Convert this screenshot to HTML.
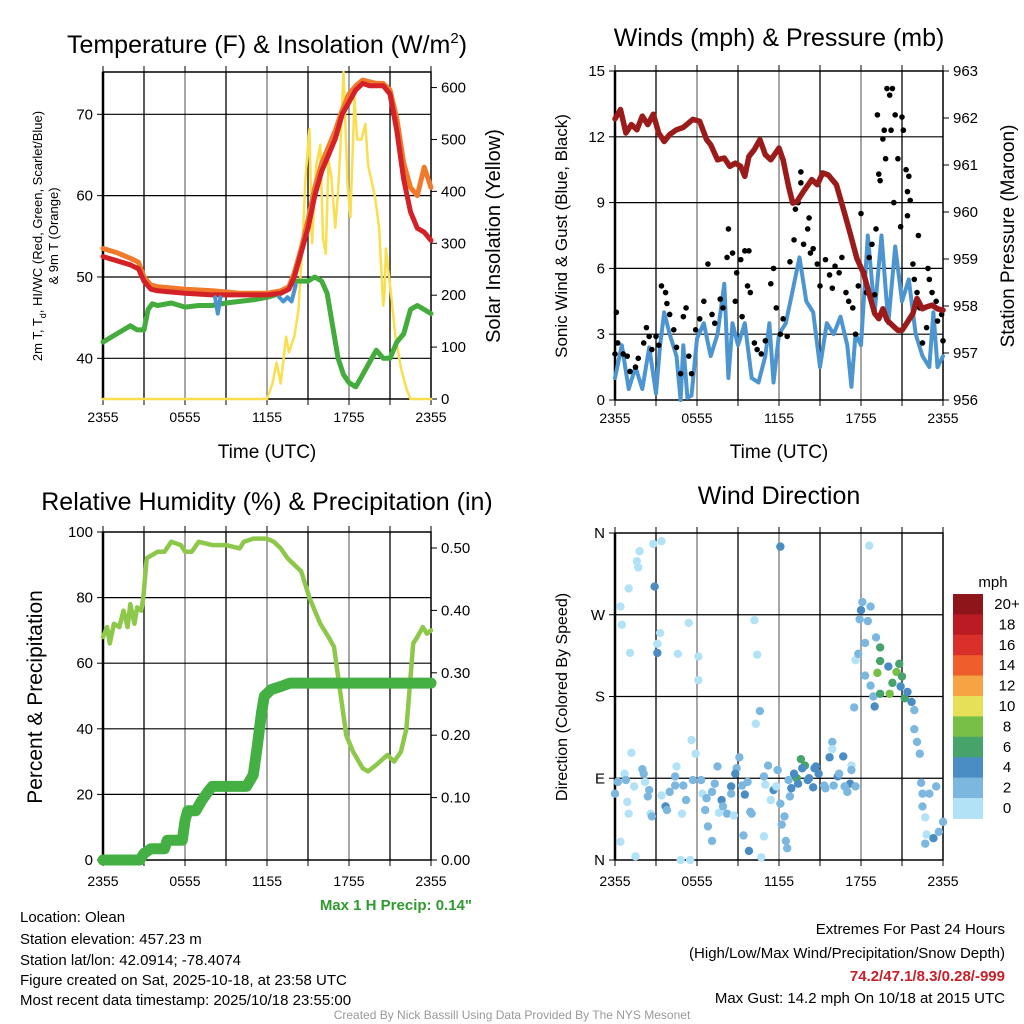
<!DOCTYPE html>
<html><head><meta charset="utf-8"><style>
body{margin:0;background:#fff}
svg{display:block;font-family:"Liberation Sans",sans-serif}
</style></head><body>
<svg id="c" width="1024" height="1024" viewBox="0 0 1024 1024">
<rect width="1024" height="1024" fill="#fff"/>
<g id="layer"></g>
<text x="267" y="53" font-size="25" text-anchor="middle">Temperature (F) &amp; Insolation (W/m<tspan dy="-10" font-size="15">2</tspan><tspan dy="10">)</tspan></text>
<text x="779" y="46" font-size="25" text-anchor="middle">Winds (mph) &amp; Pressure (mb)</text>
<text x="267" y="510" font-size="25" text-anchor="middle">Relative Humidity (%) &amp; Precipitation (in)</text>
<text x="779" y="504" font-size="25" text-anchor="middle">Wind Direction</text>
<text transform="translate(42,236) rotate(-90)" font-size="13" text-anchor="middle">2m T, T<tspan dy="4" font-size="9">d</tspan><tspan dy="-4">, HI/WC (Red, Green, Scarlet/Blue)</tspan></text>
<text transform="translate(58,236) rotate(-90)" font-size="13" text-anchor="middle">&amp; 9m T (Orange)</text>
<text transform="translate(500,236) rotate(-90)" font-size="20" text-anchor="middle">Solar Insolation (Yellow)</text>
<text x="267" y="458" font-size="19" text-anchor="middle">Time (UTC)</text>
<text transform="translate(567,236) rotate(-90)" font-size="17" text-anchor="middle">Sonic Wind &amp; Gust (Blue, Black)</text>
<text transform="translate(1014,236) rotate(-90)" font-size="19" text-anchor="middle">Station Pressure (Maroon)</text>
<text x="779" y="458" font-size="19" text-anchor="middle">Time (UTC)</text>
<text transform="translate(42,697) rotate(-90)" font-size="21" text-anchor="middle">Percent &amp; Precipitation</text>
<text transform="translate(567,697) rotate(-90)" font-size="16" text-anchor="middle">Direction (Colored By Speed)</text>
<text x="472" y="910" font-size="15" font-weight="bold" fill="#2f9a2f" text-anchor="end">Max 1 H Precip: 0.14"</text>
<text x="993" y="587" font-size="15" text-anchor="middle">mph</text>
<g font-size="15">
<text x="20" y="922">Location: Olean</text>
<text x="20" y="944">Station elevation: 457.23 m</text>
<text x="20" y="965">Station lat/lon: 42.0914; -78.4074</text>
<text x="20" y="985">Figure created on Sat, 2025-10-18, at 23:58 UTC</text>
<text x="20" y="1005">Most recent data timestamp: 2025/10/18 23:55:00</text>
</g>
<g font-size="15" text-anchor="end">
<text x="1005" y="934">Extremes For Past 24 Hours</text>
<text x="1005" y="958">(High/Low/Max Wind/Precipitation/Snow Depth)</text>
<text x="1005" y="981" fill="#c8202a" font-weight="bold">74.2/47.1/8.3/0.28/-999</text>
<text x="1005" y="1003">Max Gust: 14.2 mph On 10/18 at 2015 UTC</text>
</g>
<text x="512" y="1019" font-size="12" fill="#999" text-anchor="middle">Created By Nick Bassill Using Data Provided By The NYS Mesonet</text>
</svg>
<script>
// ---- time axis
const xTickLabels=["2355","0555","1155","1755","2355"];
// ---- Panel 1 data
const tempH=[0,1,2,2.6,3,3.5,4,6,8,10,12,13,13.6,14,14.5,15,15.5,16,16.5,17,17.5,18,18.5,19,19.5,20,20.5,21,21.5,22,22.5,23,23.5,24];
const tempRed=[52.5,52,51.5,51,49.5,48.5,48.3,48,47.8,47.8,47.8,48,48.5,50,53,56,60,63,65,67,70,71.5,73,73.8,73.5,73.5,73.5,72.5,68,62,58,56,55.5,54.5];
const tempOrange=[53.5,53,52.3,51.8,50,49,48.8,48.5,48.3,48,48,48.3,48.8,50.5,53.5,57,61,64,66,68,70.5,72.5,73.5,74.2,74,73.8,73.8,73,69.5,64,61,60,63.5,61];
const dewH=[0,0.5,1,1.5,2,2.5,3,3.3,3.6,4,5,6,7,8,9,10,11,12,13,13.5,14,15,15.5,16,16.4,16.8,17.2,17.6,18,18.5,19,19.5,20,20.5,21,21.5,22,22.5,23,23.5,24];
const dewVals=[42,42.5,43,43.5,44,43.5,43.5,46,46.7,46.5,46.8,46.3,46.5,46.5,46.8,47,47.2,47.5,48,48.5,49.5,49.5,50,49.5,48,44,40,38,37,36.5,38,39.5,41,40,40,42,43,46,46.5,46,45.5];
const hiH=[8.2,8.4,8.6,null,12.9,13.2,13.5,13.8,14.1];
const hiVals=[47.5,45.5,47.5,null,47.5,47,47.5,47,49];
const solarH=[0,12,12.4,12.7,13,13.4,13.6,14,14.3,14.6,14.8,15.1,15.3,15.6,15.9,16.1,16.3,16.5,16.7,17,17.2,17.4,17.6,17.9,18.1,18.4,18.6,18.9,19.2,19.4,19.9,20.2,20.5,20.6,20.7,21,21.4,21.8,22.2,22.5,24];
const solarVals=[0,0,30,70,30,120,90,120,170,300,420,520,300,450,490,310,280,460,430,330,400,500,630,410,350,580,500,500,530,450,390,330,180,200,290,220,120,60,20,0,0];
// ---- Panel 2 data
const presH=[0,0.4,0.8,1.2,1.6,2,2.4,2.8,3.2,3.6,4,4.5,5,5.7,6.2,6.7,7,7.5,8,8.4,8.8,9.2,9.5,9.8,10.2,10.6,11,11.4,12,12.3,12.7,13,13.3,13.8,14.4,14.8,15.2,15.6,16.2,16.8,17.2,17.7,18.2,18.6,19,19.3,19.6,19.9,20.3,20.7,21,21.4,21.8,22.1,22.5,22.8,23.2,23.6,24];
const presVals=[961.98,962.18,961.68,961.86,961.75,962.04,961.86,962.08,961.68,961.5,961.65,961.75,961.8,961.97,961.93,961.54,961.43,961.11,961.15,960.97,961.04,960.97,960.76,961.18,961.33,961.54,961.22,961.11,961.36,961.11,960.54,960.19,960.22,960.44,960.69,960.58,960.83,960.79,960.58,959.97,959.55,959.01,958.69,958.26,957.84,957.73,957.94,957.7,957.59,957.48,957.48,957.66,957.84,958.16,957.94,957.98,958.02,957.94,957.91];
const windH=[0,0.5,1,1.5,2,2.5,3,3.3,3.6,4,4.5,4.8,5,5.3,5.6,6,6.5,7,7.5,8,8.3,8.6,9,9.5,10,10.5,11,11.3,11.6,12,12.5,13,13.5,14,14.5,15,15.5,16,16.5,17,17.3,17.6,18,18.5,19,19.5,20,20.5,21,21.5,22,22.5,23,23.3,23.6,24];
const windVals=[1,2.5,0.5,1.5,0.5,2.4,0.3,2.5,4,3,2,0,2.5,0.1,0.2,2.8,3.5,2,3,5.3,1,3.5,2.5,3.5,1,0.8,2,3.5,0.8,3,3.5,5,6.5,4.5,4,1.5,3.5,3,3.8,2.5,0.6,3,2.5,7.5,4,7.5,3.5,7,4.5,5.5,3,2,1.5,4,1.5,2];
const gustH=[0,0.1,0.2,0.6,0.9,1.1,1.5,1.7,2.1,2.3,2.5,2.7,3.0,3.2,3.4,3.7,3.8,4.0,4.3,4.5,4.8,5.0,5.2,5.4,5.6,5.9,6.2,6.5,6.8,7.1,7.3,7.7,7.9,8.2,8.3,8.6,8.8,8.9,9.2,9.3,9.5,9.7,9.8,9.9,10.2,10.4,10.7,11.0,11.4,11.6,11.8,12.1,12.3,12.6,12.8,13.1,13.2,13.4,13.6,13.6,13.8,14.1,14.2,14.3,14.5,14.8,15.0,15.4,15.7,15.9,16.1,16.4,16.6,16.9,17.1,17.4,17.6,17.8,18.0,18.2,18.4,18.6,18.8,19.0,19.1,19.2,19.3,19.4,19.6,19.7,19.8,19.9,20.1,20.3,20.2,20.4,20.5,20.7,20.9,21.0,21.1,21.3,21.4,21.5,21.6,21.4,21.8,21.9,22.1,22.2,22.3,22.5,22.8,22.9,23.0,23.2,23.5,23.6,23.9,24];
const gustVals=[2.1,4.0,2.6,2.1,2.0,1.3,1.5,1.9,2.6,3.3,2.9,2.3,2.9,2.5,5.2,4.9,4.4,3.9,3.2,2.4,1.2,3.8,4.2,2.0,1.2,3.2,3.7,4.5,6.2,3.9,3.5,4.6,4.2,6.5,7.8,6.7,4.5,5.8,6.4,3.8,6.8,5.2,6.8,4.9,2.6,2.3,2.1,2.7,5.3,6.0,4.2,3.0,3.7,2.9,6.3,7.3,8.7,9.0,9.9,10.4,7.1,7.8,8.3,6.7,6.9,6.2,5.2,6.4,5.7,5.1,6.1,5.8,6.5,4.9,4.5,4.2,3.0,5.2,8.5,5.8,4.9,6.5,7.1,4.8,7.8,13.0,10.3,10.0,11.9,12.3,11.0,14.2,13.9,14.2,12.3,9.0,13.0,11.0,7.9,12.9,12.3,10.5,9.5,10.2,9.1,8.4,6.2,5.5,4.9,7.5,4.2,2.6,3.3,6.0,5.5,4.9,4.5,3.6,3.9,2.7];
// ---- Panel 3 data
const rhH=[0,0.3,0.5,0.8,1.2,1.5,1.8,2.0,2.3,2.5,2.8,2.95,3.2,3.6,4,4.5,5,5.7,6,6.5,7,8,9,10,10.3,11,12,12.5,13,13.5,14,14.5,15.1,15.5,15.9,16.5,16.9,17.4,17.8,18.3,19,19.4,20,20.8,21.3,21.8,22.2,22.7,23,23.4,23.7,24];
const rhVals=[68,71,66,72,71,76,71,78,72,77,76,80,92,93,94,94,97,96,94,94,97,96,96,95,97,98,98,97,95,92,90,88,80,76,72,68,65,50,38,33,28,27,29,32,30,33,40,66,68,71,69,70];
const precipH=[0,2.7,3,3.5,4.5,4.7,5.8,6,6.2,6.8,7.2,7.7,8,10.5,11,11.3,11.6,11.8,12.3,13,13.7,24];
const precipVals=[0,0,0.0105,0.018,0.018,0.0315,0.0315,0.063,0.079,0.079,0.0945,0.11,0.118,0.118,0.1365,0.184,0.236,0.2625,0.273,0.278,0.2835,0.2835];
// ---- Panel 4 data
const dirH=[0,0.4,0.4,0.5,1.0,1.1,1.2,0.7,0.9,1.0,1.4,1.5,1.6,1.7,1.8,2.1,2.4,2.6,2.8,2.9,3.1,3.1,3.3,3.4,3.7,3.8,4.4,4.5,4.6,4.8,4.9,5.2,5.4,5.5,5.6,5.9,6.1,6.1,6.3,6.6,6.8,7.1,7.5,7.8,8.2,8.5,8.7,8.9,9.1,9.4,9.5,9.8,9.9,10.2,10.4,10.3,10.6,10.7,10.9,11.0,11.2,11.6,11.9,12.1,12.1,12.2,12.4,12.5,12.6,12.8,12.9,13.3,13.6,13.9,14.2,14.5,14.7,15.3,15.7,15.9,15.9,16.3,16.7,17.0,17.2,17.6,17.5,17.6,17.8,18.1,18.0,17.9,18.5,18.3,18.7,18.6,19.1,19.4,19.4,19.2,18.3,18.7,19.0,18.9,19.4,20.0,20.1,20.3,20.6,20.8,21.0,20.9,21.2,21.4,21.7,21.9,21.9,22.1,22.3,22.4,22.5,22.5,22.7,22.8,22.7,23.0,23.3,23.5,23.7,24,0.2,0.8,2.0,2.2,2.5,2.7,3.4,4.0,4.4,5.0,5.7,6.4,6.7,7.1,7.3,7.6,7.9,8.5,8.8,9.3,9.7,10.0,10.9,11.4,11.8,12.7,13.1,13.4,13.7,14.1,14.6,14.9,15.4,16.0,16.4,16.8,17.3,17.3];
const dirDeg=[73,20,279,259,299,228,118,95,64,51,81,4,329,322,340,95,70,51,348,301,238,228,250,351,59,55,92,103,227,0,51,66,261,0,132,117,198,224,88,55,37,21,103,66,51,81,49,101,113,27,72,10,53,264,226,150,164,3,26,83,104,77,99,345,62,39,48,21,13,70,79,90,111,104,90,80,103,82,113,130,122,92,114,75,84,81,168,220,227,284,275,265,263,239,279,346,245,234,219,206,203,192,169,180,183,213,183,195,207,216,202,191,178,185,174,165,144,130,117,85,73,59,47,28,18,73,24,81,31,42,86,88,100,86,77,48,71,75,82,82,88,73,68,75,84,52,59,73,95,82,86,51,92,66,81,88,95,84,101,88,101,95,79,82,95,81,104,99];
const dirSpd=[2,0,0,0,0,0,0,0,0,0,0,0,0,0,0,2,2,0,0,4,0,4,0,0,4,2,2,0,0,0,0,2,0,0,0,0,0,0,2,2,2,2,2,4,2,4,0,2,2,2,4,4,2,0,0,0,2,0,0,0,2,4,2,4,2,2,2,2,2,2,4,6,6,6,4,4,4,2,4,2,0,4,4,2,4,2,2,0,2,2,4,2,2,2,2,0,2,6,6,8,2,2,4,2,6,4,8,6,8,6,6,4,6,4,4,2,2,2,2,2,2,2,0,0,2,2,4,2,2,2,2,2,2,0,2,2,0,2,2,2,2,0,2,2,2,0,2,2,4,2,2,2,2,0,0,2,4,4,4,4,4,4,2,2,2,2,0,2];
const cbLabels=["20+","18","16","14","12","10","8","6","4","2","0"];
const cbColors=["#8e1519","#bb1c24","#d9312a","#ee5e2b","#f6a443","#e6e058","#78bf48","#46a46b","#4a8dc4","#7cb7e0","#b2e2f6"];

const NS="http://www.w3.org/2000/svg";
const layer=document.getElementById('layer');
function mk(tag,attrs,parent){const e=document.createElementNS(NS,tag);for(const k in attrs)e.setAttribute(k,attrs[k]);(parent||layer).appendChild(e);return e;}
function lin(d0,d1,r0,r1){return v=>r0+(v-d0)/(d1-d0)*(r1-r0);}
function pathD(xs,ys,fx,fy){let d="",pen=false;for(let i=0;i<xs.length;i++){if(xs[i]===null||ys[i]===null){pen=false;continue;}d+=(pen?"L":"M")+fx(xs[i]).toFixed(1)+","+fy(ys[i]).toFixed(1);pen=true;}return d;}

function frame(L,R,T,B,name,lblOff){
  const g=mk('g',{});
  
  
  const fx=lin(0,24,L,R);
  for(let h=3;h<24;h+=3){const ln=mk('line',{x1:fx(h),x2:fx(h),y1:T,y2:B,stroke:(h%6===0)?'#777':'#000','stroke-width':1.3},g);
    
    }
  for(let h=0;h<=24;h+=3){const tk=mk('line',{x1:fx(h),x2:fx(h),y1:B,y2:B+6,stroke:'#000','stroke-width':1},g);
    const tk2=mk('line',{x1:fx(h),x2:fx(h),y1:T,y2:T-6,stroke:'#000','stroke-width':1},g);}
  xTickLabels.forEach((s,i)=>{const t=mk('text',{x:fx(i*6),y:B+lblOff,'font-size':14,'text-anchor':'middle'},g);t.textContent=s;
    
    });
  return {fx,g};
}
function hgrid(fy,vals,L,R,g){vals.forEach(v=>{const l=mk('line',{x1:L,x2:R,y1:fy(v),y2:fy(v),stroke:'#000','stroke-width':1.2},g);});}
function yTicks(fy,vals,labels,x,side,g,name){vals.forEach((v,i)=>{
  const tk=mk('line',{x1:x,x2:x+(side<0?-6:6),y1:fy(v),y2:fy(v),stroke:'#000','stroke-width':1},g);
  
  
  const t=mk('text',{x:x+(side<0?-10:10),y:fy(v)+5,'font-size':15,'text-anchor':side<0?'end':'start'},g);t.textContent=labels[i];
  
  });}
function box(L,R,T,B,g){const r=mk('rect',{x:L,y:T,width:R-L,height:B-T,fill:'none',stroke:'#000','stroke-width':1.5},g);
  const l=mk('line',{x1:L,x2:L,y1:T,y2:B,stroke:'#000','stroke-width':2.5},g);}
function line(xs,ys,fx,fy,color,w,name){const p=mk('path',{d:pathD(xs,ys,fx,fy),fill:'none',stroke:color,'stroke-width':w,'stroke-linejoin':'round','stroke-linecap':'round'});
  
  return p;}

// Panel 1
{const L=103,R=431,T=72,B=399;const {fx,g}=frame(L,R,T,B,'temp-panel',23);
 const fy=lin(35,75.2,B,T);const fs=lin(0,630,B,T);
 hgrid(fy,[40,50,60,70],L,R,g);
 yTicks(fy,[40,50,60,70],["40","50","60","70"],L,-1,g,'temp-y');
 yTicks(fs,[0,100,200,300,400,500,600],["0","100","200","300","400","500","600"],R,1,g,'solar-y');
 line(solarH,solarVals,fx,fs,'#f9de4e',2.5,'solar-insolation-line');
 line(dewH,dewVals,fx,fy,'#43ac3d',5,'dewpoint-line');
 line(tempH,tempOrange,fx,fy,'#f07a2a',5,'temp-9m-line');
 line(tempH,tempRed,fx,fy,'#d42127',5,'temp-2m-line');
 line(hiH,hiVals,fx,fy,'#4b93cf',4,'heat-index-windchill-line');
 box(L,R,T,B,g);}
// Panel 2
{const L=615,R=943,T=71,B=400;const {fx,g}=frame(L,R,T,B,'wind-panel',23);
 const fy=lin(0,15,B,T);const fp=lin(956,963,B,T);
 hgrid(fy,[3,6,9,12],L,R,g);
 yTicks(fy,[0,3,6,9,12,15],["0","3","6","9","12","15"],L,-1,g,'wind-y');
 yTicks(fp,[956,957,958,959,960,961,962,963],["956","957","958","959","960","961","962","963"],R,1,g,'pressure-y');
 line(windH,windVals,fx,fy,'#4d95d0',4,'sonic-wind-line');
 gustH.forEach((h,i)=>{const c=mk('circle',{cx:fx(h),cy:fy(gustVals[i]),r:2.8,fill:'#000'});
   
   });
 line(presH,presVals,fx,fp,'#9b1b1b',5.5,'pressure-line');
 box(L,R,T,B,g);}
// Panel 3
{const L=103,R=431,T=532,B=860;const {fx,g}=frame(L,R,T,B,'rh-panel',26);
 const fy=lin(0,100,B,T);const fi=lin(0,0.5,B,548);
 hgrid(fy,[20,40,60,80],L,R,g);
 yTicks(fy,[0,20,40,60,80,100],["0","20","40","60","80","100"],L,-1,g,'rh-y');
 yTicks(fi,[0,0.1,0.2,0.3,0.4,0.5],["0.00","0.10","0.20","0.30","0.40","0.50"],R,1,g,'precip-y');
 line(rhH,rhVals,fx,fy,'#8dc84b',4.5,'relative-humidity-line');
 line(precipH,precipVals,fx,fi,'#44b044',11,'precipitation-line');
 box(L,R,T,B,g);}
// Panel 4
{const L=615,R=943,T=533,B=860;const {fx,g}=frame(L,R,T,B,'direction-panel',26);
 const fy=lin(0,360,B,T);
 hgrid(fy,[90,180,270],L,R,g);
 yTicks(fy,[0,90,180,270,360],["N","E","S","W","N"],L,-1,g,'direction-y');
 dirH.forEach((h,i)=>{const idx=10-Math.min(10,Math.floor(dirSpd[i]/2));
   const c=mk('circle',{cx:fx(h),cy:fy(dirDeg[i]),r:4.2,fill:cbColors[idx]});
   
   });
 box(L,R,T,B,g);
 const cbT=594,cbH=20.4;
 cbLabels.forEach((s,i)=>{const r=mk('rect',{x:953,y:cbT+i*cbH,width:30,height:cbH+0.5,fill:cbColors[i]});
   
   
   const t=mk('text',{x:1007,y:cbT+i*cbH+15,'font-size':15,'text-anchor':'middle'});t.textContent=s;
   
   });}
</script>
</body></html>
